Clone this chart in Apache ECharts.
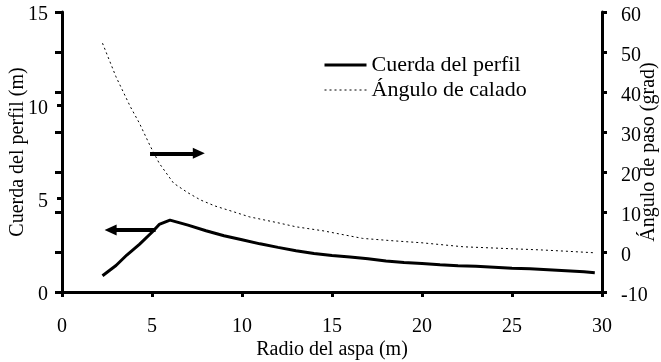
<!DOCTYPE html>
<html>
<head>
<meta charset="utf-8">
<script src="https://cdn.jsdelivr.net/npm/echarts@6/dist/echarts.min.js"></script>
<style>html,body{margin:0;padding:0;background:#fff}#c{width:661px;height:362px}</style>
</head>
<body>
<div id="c"></div>
<script>
// Radio del aspa (m) vs Cuerda del perfil (m)
var chordX = [2.25, 3.0, 3.6, 4.3, 5.0, 5.4, 6.0, 7.0, 8.0, 9.0, 10.0, 11.0, 12.0, 13.0, 14.0, 15.0, 16.0, 17.0, 18.0, 19.0, 20.0, 21.0, 22.0, 23.0, 24.0, 25.0, 26.0, 27.0, 28.0, 29.0, 29.6];
var chordY = [0.87, 1.42, 1.98, 2.55, 3.2, 3.62, 3.85, 3.58, 3.28, 3.01, 2.8, 2.58, 2.39, 2.21, 2.06, 1.95, 1.88, 1.78, 1.66, 1.58, 1.53, 1.46, 1.41, 1.38, 1.33, 1.27, 1.24, 1.19, 1.14, 1.08, 1.03];
// Radio del aspa (m) vs Ángulo de calado (grad)
var angleX = [2.25, 3.0, 3.8, 4.3, 4.9, 5.4, 6.2, 7.0, 7.7, 8.5, 9.5, 10.4, 12.0, 13.0, 14.5, 16.0, 16.7, 18.4, 20.0, 22.3, 24.5, 26.7, 28.0, 29.6];
var angleY = [52.2, 43.8, 36.3, 32.2, 26.5, 22.2, 17.2, 14.8, 13.0, 11.5, 10.1, 8.8, 7.3, 6.3, 5.3, 4.0, 3.4, 2.8, 2.3, 1.3, 0.9, 0.5, 0.2, -0.2];
// annotation arrows [x0, y0, x1, y1] in chord axis units
var arrowRight = [4.89, 7.43, 7.6, 7.43];
var arrowLeft = [5.2, 3.32, 2.7, 3.32];
// tick settings
var xTicks = {min: 0, max: 30, interval: 5};
var yLeftTicks = {min: 0, max: 15, interval: 5};
var yRightTicks = {min: -10, max: 60, interval: 10};
var seriesNames = ['Cuerda del perfil', 'Ángulo de calado'];

function zip(a, b) { return a.map(function (v, i) { return [v, b[i]]; }); }

var FONT = 'Liberation Serif';
var chart = echarts.init(document.getElementById('c'), null, {renderer: 'canvas'});
var axisLine = {show: true, onZero: false, lineStyle: {color: '#000', width: 3}};
chart.setOption({
  animation: false,
  backgroundColor: '#fff',
  textStyle: {fontFamily: FONT, color: '#000'},
  grid: {left: 62, right: 59, top: 12, bottom: 70, containLabel: false, outerBoundsMode: 'none'},
  legend: {
    orient: 'vertical', left: 318, top: 49, itemWidth: 42, itemHeight: 10, itemGap: 3,
    itemStyle: {opacity: 0},
    textStyle: {fontFamily: FONT, fontSize: 22, color: '#000'},
    data: [
      {name: seriesNames[0], lineStyle: {color: '#000', width: 3}},
      {name: seriesNames[1], lineStyle: {color: '#000', width: 1, type: [2, 3]}}
    ]
  },
  xAxis: {
    type: 'value', min: xTicks.min, max: xTicks.max, interval: xTicks.interval,
    name: 'Radio del aspa (m)', nameLocation: 'middle', nameGap: 48, nameMoveOverlap: false,
    nameTextStyle: {fontFamily: FONT, fontSize: 20, color: '#000'},
    axisLine: axisLine,
    axisTick: {show: true, inside: false, length: 5, lineStyle: {color: '#000', width: 3}},
    axisLabel: {fontFamily: FONT, fontSize: 20, color: '#000', margin: 25},
    splitLine: {show: false}
  },
  yAxis: [{
    type: 'value', min: yLeftTicks.min, max: yLeftTicks.max, interval: yLeftTicks.interval, position: 'left',
    name: 'Cuerda del perfil (m)', nameLocation: 'middle', nameGap: 34, nameRotate: 90, nameMoveOverlap: false,
    nameTextStyle: {fontFamily: FONT, fontSize: 20, color: '#000'},
    axisLine: axisLine,
    axisTick: {show: true, inside: false, length: 5, lineStyle: {color: '#000', width: 3}},
    axisLabel: {fontFamily: FONT, fontSize: 20, color: '#000', margin: 14, verticalAlign: 'top', lineHeight: 6},
    splitLine: {show: false}
  }, {
    type: 'value', min: yRightTicks.min, max: yRightTicks.max, interval: yRightTicks.interval, position: 'right',
    name: 'Ángulo de paso (grad)', nameLocation: 'middle', nameGap: 37, nameRotate: 90, nameMoveOverlap: false,
    nameTextStyle: {fontFamily: FONT, fontSize: 20, color: '#000'},
    axisLine: axisLine,
    axisTick: {show: true, inside: false, length: 5, lineStyle: {color: '#000', width: 3}},
    axisLabel: {fontFamily: FONT, fontSize: 20, color: '#000', margin: 19, verticalAlign: 'top', lineHeight: 8},
    splitLine: {show: false}
  }, {
    type: 'value', min: yRightTicks.min, max: yRightTicks.max, interval: yRightTicks.interval, position: 'right',
    axisLine: {show: false},
    axisTick: {show: true, inside: true, length: 7, lineStyle: {color: '#000', width: 3}},
    axisLabel: {show: false},
    splitLine: {show: false}
  }],
  series: [{
    name: seriesNames[0], type: 'line', yAxisIndex: 0, data: zip(chordX, chordY),
    symbol: 'none', smooth: false,
    lineStyle: {color: '#000', width: 3},
    itemStyle: {color: '#000'},
    markLine: {
      silent: true, symbol: ['none', 'triangle'], symbolSize: [11, 12],
      lineStyle: {color: '#000', width: 4, type: 'solid'},
      label: {show: false},
      data: [
        [{coord: [arrowRight[0], arrowRight[1]]}, {coord: [arrowRight[2], arrowRight[3]]}],
        [{coord: [arrowLeft[0], arrowLeft[1]]}, {coord: [arrowLeft[2], arrowLeft[3]]}]
      ]
    }
  }, {
    name: seriesNames[1], type: 'line', yAxisIndex: 1, data: zip(angleX, angleY),
    symbol: 'none', smooth: false,
    lineStyle: {color: '#000', width: 1, type: [2, 3]},
    itemStyle: {color: '#000'}
  }]
});
</script>
</body>
</html>
